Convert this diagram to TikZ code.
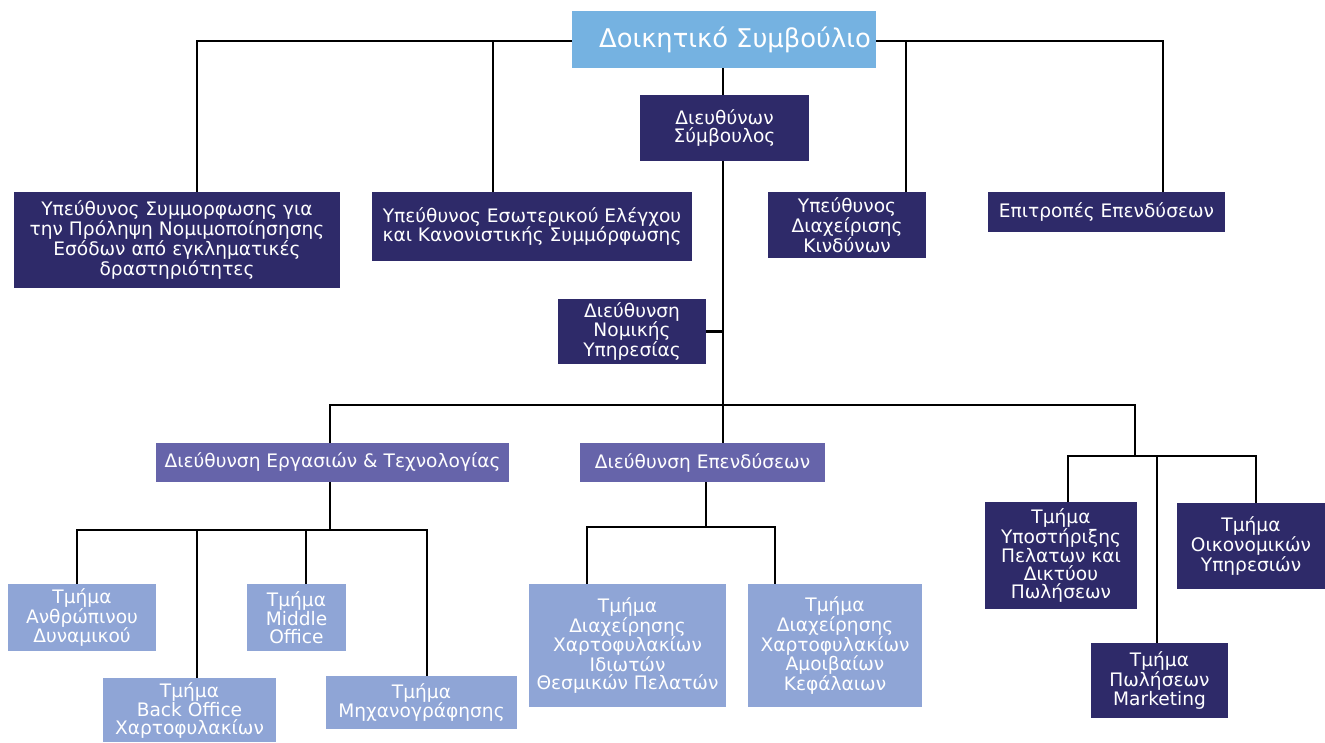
\documentclass[tikz,border=0pt]{standalone}
\usepackage{fontspec}
\setmainfont{DejaVu Sans}
\definecolor{navy}{HTML}{2E2A69}
\definecolor{purp}{HTML}{6664AA}
\definecolor{peri}{HTML}{8FA5D6}
\definecolor{sky}{HTML}{75B2E1}
\begin{document}
\begin{tikzpicture}[x=1pt,y=-1pt,
  box/.style={inner sep=0pt, align=center, text=white, font=\fontsize{18.6}{18}\selectfont},
  navybox/.style={box, fill=navy},
  purpbox/.style={box, fill=purp},
  peribox/.style={box, fill=peri},
  skybox/.style={box, fill=sky, font=\fontsize{25.8}{28}\selectfont},
  conn/.style={draw=black, line width=2.6pt}]
\useasboundingbox (0,0) rectangle (1325,742);
% nodes
\node[skybox, minimum width=304pt, minimum height=57pt] (board) at (724,39.5) {\hspace*{22pt}Δοικητικό Συμβούλιο};
\node[navybox, minimum width=169pt, minimum height=66pt] (ceo) at (724.5,128) {Διευθύνων\\Σύμβουλος};
\node[navybox, minimum width=326pt, minimum height=96pt] (b1) at (177,240) {Υπεύθυνος Συμμορφωσης για\\την Πρόληψη Νομιμοποίησησης\\Εσόδων από εγκληματικές\\δραστηριότητες};
\node[navybox, minimum width=320pt, minimum height=69pt] (b2) at (532,226.5) {Υπεύθυνος Εσωτερικού Ελέγχου\\και Κανονιστικής Συμμόρφωσης};
\node[navybox, minimum width=158pt, minimum height=66pt] (b3) at (847,225) {Υπεύθυνος\\Διαχείρισης\\Κινδύνων};
\node[navybox, minimum width=237pt, minimum height=40pt] (b4) at (1106.5,212) {Επιτροπές Επενδύσεων};
\node[navybox, minimum width=148pt, minimum height=65pt] (legal) at (632,331.5) {Διεύθυνση\\Νομικής\\Υπηρεσίας};
\node[purpbox, minimum width=353pt, minimum height=39pt] (ops) at (332.5,462.5) {Διεύθυνση Εργασιών \& Τεχνολογίας};
\node[purpbox, minimum width=245pt, minimum height=39pt] (inv) at (702.5,462.5) {Διεύθυνση Επενδύσεων};
\node[peribox, minimum width=148pt, minimum height=67pt] (hr) at (82,617.5) {Τμήμα\\Ανθρώπινου\\Δυναμικού};
\node[peribox, minimum width=173pt, minimum height=64pt] (bo) at (189.5,710) {Τμήμα\\Back Office\\Χαρτοφυλακίων};
\node[peribox, minimum width=99pt, minimum height=67pt] (mo) at (296.5,617.5) {Τμήμα\\Middle\\Office};
\node[peribox, minimum width=191pt, minimum height=53pt] (it) at (421.5,702.5) {Τμήμα\\Μηχανογράφησης};
\node[peribox, minimum width=197pt, minimum height=123pt] (priv) at (627.5,645.5) {Τμήμα\\Διαχείρησης\\Χαρτοφυλακίων\\Ιδιωτών\\Θεσμικών Πελατών};
\node[peribox, minimum width=174pt, minimum height=123pt] (mf) at (835,645.5) {Τμήμα\\Διαχείρησης\\Χαρτοφυλακίων\\Αμοιβαίων\\Κεφάλαιων};
\node[navybox, minimum width=152pt, minimum height=107pt] (sup) at (1061,555.5) {Τμήμα\\Υποστήριξης\\Πελατων και\\Δικτύου\\Πωλήσεων};
\node[navybox, minimum width=148pt, minimum height=86pt] (fin) at (1251,546) {Τμήμα\\Οικονομικών\\Υπηρεσιών};
\node[navybox, minimum width=137pt, minimum height=75pt] (mkt) at (1159.5,680.5) {Τμήμα\\Πωλήσεων\\Marketing};
% junction coordinates
\coordinate (tl) at (197,41);
\coordinate (t2) at (493,41);
\coordinate (t3) at (906,41);
\coordinate (tr) at (1163,41);
\coordinate (hl) at (330,405);
\coordinate (hm) at (723,405);
\coordinate (hr2) at (1135,405);
\coordinate (rm) at (1135,456);
\coordinate (rl) at (1068,456);
\coordinate (rc) at (1157,456);
\coordinate (rr) at (1256,456);
\coordinate (om) at (330,530);
\coordinate (o1) at (77,530);
\coordinate (o2) at (197,530);
\coordinate (o3) at (306,530);
\coordinate (o4) at (427,530);
\coordinate (im) at (706,527);
\coordinate (i1) at (587,527);
\coordinate (i2) at (775,527);
% connectors
\draw[conn] (board.west |- tl) -- (tl) -- (tl |- b1.north);
\draw[conn] (t2) -- (t2 |- b2.north);
\draw[conn] (board.east |- tr) -- (tr) -- (tr |- b4.north);
\draw[conn] (t3) -- (t3 |- b3.north);
\draw[conn] (hm |- board.south) -- (hm |- ceo.north);
\draw[conn] (hm |- ceo.south) -- (hm |- inv.north);
\draw[conn] (legal.east) -- (legal.east -| hm);
\draw[conn] (hl |- ops.north) -- (hl) -- (hr2) -- (rm);
\draw[conn] (rl |- sup.north) -- (rl) -- (rr) -- (rr |- fin.north);
\draw[conn] (rc) -- (rc |- mkt.north);
\draw[conn] (om |- ops.south) -- (om);
\draw[conn] (o1 |- hr.north) -- (o1) -- (o4) -- (o4 |- it.north);
\draw[conn] (o2) -- (o2 |- bo.north);
\draw[conn] (o3) -- (o3 |- mo.north);
\draw[conn] (im |- inv.south) -- (im);
\draw[conn] (i1 |- priv.north) -- (i1) -- (i2) -- (i2 |- mf.north);
\end{tikzpicture}
\end{document}
